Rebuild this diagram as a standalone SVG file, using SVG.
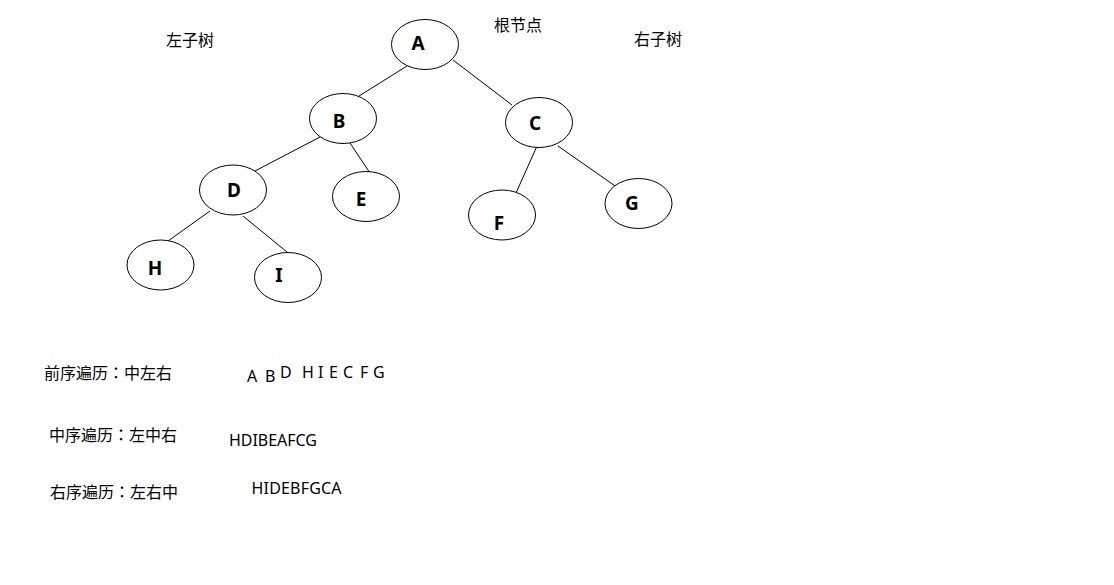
<svg xmlns="http://www.w3.org/2000/svg" width="1114" height="585" viewBox="0 0 1114 585">
<style>
.n ellipse{fill:#fff;stroke:#000;stroke-width:1}
.n text{font-family:"Noto Sans","Liberation Sans",sans-serif;font-weight:bold;font-size:19px;text-anchor:middle;fill:#000}
.cn{font-family:"Noto Sans CJK SC","Noto Sans",sans-serif;font-size:16px;fill:#000}
.tc{font-family:"Noto Sans CJK TC","Noto Sans CJK SC",sans-serif}
.lt{font-family:"Noto Sans","Liberation Sans",sans-serif;font-size:16px;fill:#000;white-space:pre}
#edges line{stroke:#000;stroke-width:1}
</style>
<rect width="1114" height="585" fill="#fff"/>
<g id="edges">
<line x1="407" y1="66" x2="359" y2="96"/>
<line x1="453" y1="60" x2="512" y2="105"/>
<line x1="320" y1="137" x2="255" y2="171"/>
<line x1="350" y1="143" x2="370" y2="173"/>
<line x1="537" y1="146" x2="516" y2="193"/>
<line x1="558" y1="146" x2="618" y2="188"/>
<line x1="210" y1="211" x2="168" y2="241"/>
<line x1="243" y1="216" x2="287" y2="252"/>
</g>
<g id="node-A" class="n"><ellipse cx="425" cy="44.5" rx="33.5" ry="25"/><text x="418" y="49.5">A</text></g>
<g id="node-B" class="n"><ellipse cx="343" cy="118.5" rx="33.5" ry="25"/><text x="339" y="128">B</text></g>
<g id="node-C" class="n"><ellipse cx="539" cy="122.5" rx="33.5" ry="25"/><text x="535" y="130">C</text></g>
<g id="node-D" class="n"><ellipse cx="233" cy="190" rx="33.5" ry="25"/><text x="234" y="196.5">D</text></g>
<g id="node-E" class="n"><ellipse cx="366" cy="196.5" rx="33.5" ry="25"/><text x="361" y="206">E</text></g>
<g id="node-F" class="n"><ellipse cx="502" cy="215" rx="33.5" ry="25"/><text x="499" y="230">F</text></g>
<g id="node-G" class="n"><ellipse cx="638.5" cy="203.5" rx="33.5" ry="25"/><text x="632" y="209.5">G</text></g>
<g id="node-H" class="n"><ellipse cx="160.5" cy="265" rx="33.5" ry="25"/><text x="155" y="275">H</text></g>
<g id="node-I" class="n"><ellipse cx="288" cy="277.5" rx="33.5" ry="25"/><text x="279" y="281.5">I</text></g>
<g id="labels">
<text class="cn" x="166" y="46">左子树</text>
<text class="cn" x="494" y="31">根节点</text>
<text class="cn" x="634" y="45">右子树</text>
<text class="cn" x="44" y="378.5">前序遍历<tspan class="tc">：</tspan>中左右</text>
<text class="cn" x="49" y="441">中序遍历<tspan class="tc">：</tspan>左中右</text>
<text class="cn" x="50" y="498">右序遍历<tspan class="tc">：</tspan>左右中</text>
<text class="lt" x="247 258 265" y="382">A B</text>
<text class="lt" x="280 291 296 302 314 318 324 329 337 343 354 360 367 373" y="378">D  H I E C F G</text>
<text class="lt" x="229" y="445.5" textLength="88" lengthAdjust="spacing">HDIBEAFCG</text>
<text class="lt" x="251.5" y="494" textLength="90" lengthAdjust="spacing">HIDEBFGCA</text>
</g>
</svg>
